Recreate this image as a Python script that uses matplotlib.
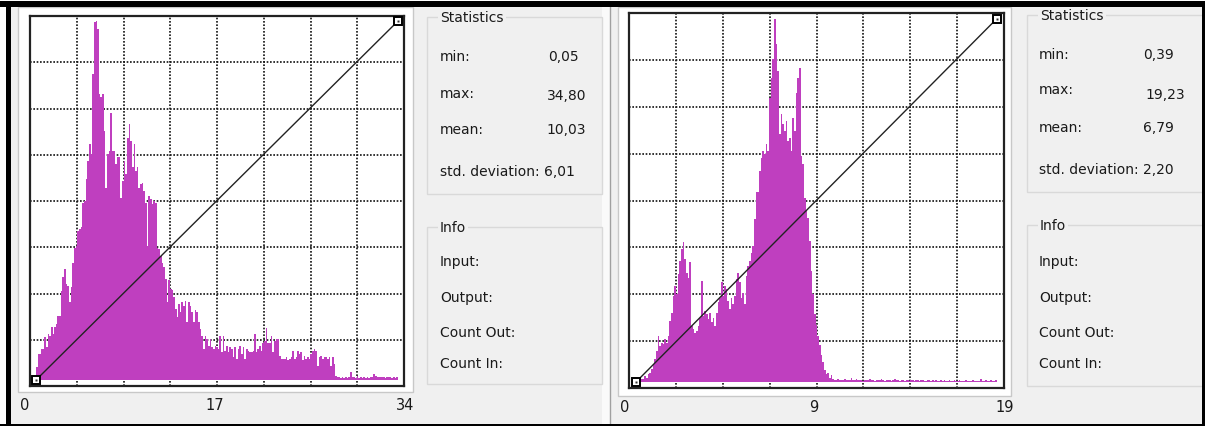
import numpy as np
import matplotlib
matplotlib.use("Agg")
import matplotlib.pyplot as plt
from matplotlib.patches import Rectangle

W, H, DPI = 1205, 427, 100

# Relative frequency of each histogram bin (percent of the tallest bin)
counts_a = [
    3.5, 7.2, 7.2, 8.6, 8.6,
    11.9, 9.1, 12.8, 12.3, 14.7, 12.8, 14.7, 15.6, 17.9, 17.9,
    24.9, 28.6, 30.9, 26.7, 26.3, 21.6, 25.8, 32.7, 36.9, 37.4,
    41.6, 42.0, 42.5, 49.4, 49.9, 55.9, 61.0, 65.7, 62.9, 85.2,
    99.8, 100.0, 97.7, 79.6, 78.7, 79.6, 69.4, 53.6, 62.9, 63.8,
    74.5, 63.8, 63.8, 60.1, 62.0, 62.0, 50.8, 55.5, 61.0, 57.3,
    67.5, 71.2, 66.6, 59.2, 65.7, 58.3, 59.2, 53.6, 54.5, 55.0,
    52.7, 49.4, 37.4, 51.3, 50.4, 49.0, 49.9, 49.4, 36.9, 36.5,
    34.6, 32.7, 31.4, 28.1, 21.7, 27.9, 25.3, 25.0, 23.1, 19.8,
    17.5, 21.2, 18.9, 21.7, 20.7, 22.1, 16.1, 21.7, 20.7, 18.9,
    16.1, 19.4, 18.9, 16.1, 14.2, 12.3, 8.6, 12.3, 11.4, 9.6,
    11.4, 9.1, 8.6, 9.6, 9.1, 8.6, 12.3, 7.7, 12.3, 8.1,
    9.6, 7.7, 9.1, 8.6, 6.3, 9.1, 5.8, 8.6, 9.6, 7.2,
    9.1, 5.8, 8.6, 8.1, 7.7, 7.7, 8.1, 12.8, 7.7, 8.6,
    9.6, 8.1, 10.4, 10.9, 14.6, 10.4, 10.4, 12.3, 7.7, 10.9,
    11.4, 11.4, 6.7, 5.8, 5.8,
    5.8, 6.3, 5.5, 5.8, 6.3, 8.2, 5.8, 6.3, 8.2, 7.2,
    7.7, 5.5, 6.8, 5.8, 6.3, 5.8, 7.2, 8.2, 8.6, 8.2,
    4.0, 6.3, 6.8, 5.8, 6.3, 6.3, 5.8, 6.3, 4.0, 6.3,
    4.5, 1.2, 0.7, 0.7, 0.5, 0.7, 0.5, 0.7, 0.6, 0.9,
    2.3, 0.7, 0.9, 0.6, 1.0, 0.6, 0.7, 0.6, 0.8, 0.6,
    0.7, 0.6, 0.8, 0.9, 1.7, 1.2, 0.8, 0.7, 0.7, 0.9,
    0.7, 0.6, 0.8, 0.7, 0.9, 0.6, 0.8, 0.6, 0.7,
]

counts_b = [
    0.4, 0.5, 0.7, 0.7, 0.8, 1.7, 1.2, 2.1, 2.6, 3.5,
    4.9, 6.2, 8.5, 12.7, 9.9, 10.8, 10.4, 11.7, 10.8, 12.7,
    16.8, 19.1, 23.7, 26.4, 24.1, 29.7, 33.3, 36.5, 38.4, 33.8,
    30.1, 28.7, 32.9, 15.4, 14.5, 13.6, 14.1, 15.4, 17.7, 27.8,
    18.2, 19.5, 18.6, 17.3, 19.1, 16.4, 17.7, 15.4, 19.1, 21.9,
    23.2, 27.4, 23.7, 26.4, 25.5, 22.3, 20.0, 23.2, 21.4, 23.7,
    28.3, 30.1, 27.4, 23.2, 24.5, 21.4, 29.2, 31.9, 33.3, 35.6,
    37.4, 44.8, 52.2, 52.2,
    58.0, 61.7, 63.5, 62.6, 65.4, 63.5, 78.2, 83.7, 88.8, 100.0,
    92.9, 85.5, 68.1, 73.6, 71.0, 69.0, 71.7, 66.3, 67.2, 63.5,
    72.7, 69.0, 79.6, 83.7, 86.4, 62.1, 59.9, 50.7, 47.0, 45.2,
    38.7, 30.5, 24.1, 18.6, 15.8, 12.6, 10.3,
    7.5, 5.5, 3.2, 2.1, 2.6, 1.2, 1.8, 0.7,
    0.5, 0.6, 0.9, 0.5, 0.6, 0.5, 0.8, 0.6, 0.5, 0.5,
    1.0, 0.6, 0.5, 0.7, 0.5, 0.6, 0.5, 0.4, 0.5, 0.6,
    0.5, 0.7, 0.5, 0.5, 0.4, 0.6, 0.5, 0.5, 0.7, 0.5,
    0.4, 0.5, 0.6, 0.5, 0.4, 0.5, 0.7, 0.5, 0.5, 0.4,
    0.5, 0.6, 0.4, 0.5, 0.5, 0.4, 0.6, 0.5, 0.4, 0.5,
    0.5, 0.4, 0.5, 0.6, 0.4, 0.4, 0.5, 0.5, 0.4, 0.5,
    0.4, 0.5, 0.4, 0.4, 0.6, 0.4, 0.5, 0.4, 0.4, 0.5,
    0.4, 0.4, 0.5, 0.4, 0.4, 0.5, 0.4, 0.4, 0.4, 0.5,
    0.4, 0.4, 0.4, 0.5, 0.4, 0.4, 0.4, 0.4, 0.9, 0.4,
    0.4, 0.5, 0.4, 0.4, 0.6, 0.4, 0.4, 0.5,
]

range_a = (0.05, 34.80)
range_b = (0.39, 19.23)
axis_labels_a = ["0", "17", "34"]
axis_labels_b = ["0", "9", "19"]

stat_names = ["min:", "max:", "mean:"]
stat_values_a = ["0,05", "34,80", "10,03"]
stat_values_b = ["0,39", "19,23", "6,79"]
std_a = "6,01"
std_b = "2,20"
info_labels = ["Input:", "Output:", "Count Out:", "Count In:"]

BAR = "#bf3fbf"
BG = "#f0f0f0"
TXT = "#1a1a1a"
FONT = "DejaVu Sans"

fig = plt.figure(figsize=(W / DPI, H / DPI), dpi=DPI)
fig.patch.set_facecolor(BG)

# Full-size overlay in pixel units for the dialog chrome and labels
ui = fig.add_axes([0, 0, 1, 1], zorder=0)
ui.set_xlim(0, W)
ui.set_ylim(H, 0)
ui.axis("off")


def rect(x0, y0, x1, y1, **kw):
    ui.add_patch(Rectangle((x0, y0), x1 - x0, y1 - y0, **kw))


def px_axes(x0, y0, x1, y1):
    return fig.add_axes([x0 / W, 1 - y1 / H, (x1 - x0) / W, (y1 - y0) / H], zorder=2)


def histogram(frame, pads, counts, vrange):
    x0, y0, x1, y1 = frame
    pl, pr, pb, pt = pads
    ax = px_axes(x0, y0, x1, y1)
    vmin, vmax = vrange
    top = max(counts)
    sx = (vmax - vmin) / (x1 - x0 - pl - pr)
    sy = top / (y1 - y0 - pb - pt)
    ax.set_xlim(vmin - pl * sx, vmax + pr * sx)
    ax.set_ylim(-pb * sy, top + pt * sy)
    ax.set_facecolor("white")
    for k in range(1, 8):
        ax.plot([k / 8, k / 8], [0, 1], transform=ax.transAxes, color="#111111",
                lw=1.2, ls=(0, (1, 1)), zorder=1)
        ax.plot([0, 1], [k / 8, k / 8], transform=ax.transAxes, color="#111111",
                lw=1.2, ls=(0, (1, 1)), zorder=1)
    edges = np.linspace(vmin, vmax, len(counts) + 1)
    ax.stairs(counts, edges, fill=True, color=BAR, baseline=0, zorder=2)
    ax.plot([vmin, vmax], [0, top], color="#222222", lw=1.0, zorder=3)
    ax.plot([vmin, vmax], [0, top], ls="none", marker="s", ms=6, mfc="white",
            mec="black", mew=1.4, zorder=4)
    ax.plot([vmin, vmax], [0, top], ls="none", marker="s", ms=1.6, mfc="#333333",
            mec="none", zorder=5)
    ax.set_xticks([])
    ax.set_yticks([])
    for s in ax.spines.values():
        s.set_color("#222222")
        s.set_linewidth(1.6)
    return ax


def group_box(x0, y0, x1, y1, title):
    rect(x0, y0, x1, y1, facecolor="none", edgecolor="#d9d9d9", lw=1.0, zorder=1)
    ui.text(x0 + 13, y0, title, fontsize=10, family=FONT, color=TXT,
            va="center", ha="left", zorder=3,
            bbox=dict(boxstyle="square,pad=0.15", fc=BG, ec="none"))


# --- window chrome ---
rect(0, 0, 6, H, facecolor="white", edgecolor="none", zorder=0.5)
rect(0, 0, W, 2, facecolor="white", edgecolor="none", zorder=0.5)

# white canvases around the two plots
rect(18, 8, 413, 393, facecolor="white", edgecolor="#c8c8c8", lw=1.0, zorder=0.6)
rect(618, 8, 1011, 397, facecolor="white", edgecolor="#c8c8c8", lw=1.0, zorder=0.6)

# --- histograms ---
histogram((30, 17, 404, 387), (6, 6, 6, 5), counts_a, range_a)
histogram((629, 14, 1004, 389), (7, 7, 6, 5.5), counts_b, range_b)

# value labels under each plot
for lab, x in zip(axis_labels_a, [25, 215, 405]):
    ui.text(x, 406, lab, fontsize=10.5, family=FONT, color=TXT, ha="center", va="center")
for lab, x in zip(axis_labels_b, [625, 814, 1005]):
    ui.text(x, 408, lab, fontsize=10.5, family=FONT, color=TXT, ha="center", va="center")


# --- statistics panels ---
def panel(tx, vx, gx0, gx1, name_ys, value_ys, std_y, values, std, stat_box, info_box, info_ys):
    group_box(gx0, stat_box[0], gx1, stat_box[1], "Statistics")
    for name, val, yn, yv, x in zip(stat_names, values, name_ys, value_ys, vx):
        ui.text(tx, yn, name, fontsize=10, family=FONT, color=TXT, va="center", ha="left")
        ui.text(x, yv, val, fontsize=10, family=FONT, color=TXT, va="center", ha="left")
    ui.text(tx, std_y, "std. deviation: " + std, fontsize=10, family=FONT, color=TXT,
            va="center", ha="left")
    group_box(gx0, info_box[0], gx1, info_box[1], "Info")
    for lab, y in zip(info_labels, info_ys):
        ui.text(tx, y, lab, fontsize=10, family=FONT, color=TXT, va="center", ha="left")


panel(440, [548, 547, 546], 427, 602, [57, 94, 130], [57, 96, 130], 172,
      stat_values_a, std_a, (18, 195), (228, 385), [262, 298, 333, 364])
panel(1039, [1143, 1145, 1143], 1027, 1230, [55, 90, 128], [55, 95, 128], 170,
      stat_values_b, std_b, (16, 193), (226, 387), [262, 298, 333, 364])

# strip where the left dialog is cut off
rect(602, 8, 610, H, facecolor="#fafafa", edgecolor="none", zorder=0.8)
ui.plot([610, 610], [8, H], color="#a0a0a0", lw=1.0, zorder=0.9)

# black outer border
rect(0, 2, W, 8, facecolor="black", edgecolor="none", zorder=5)
rect(6, 2, 11, H, facecolor="black", edgecolor="none", zorder=5)
rect(0, H - 2, W, H, facecolor="black", edgecolor="none", zorder=5)
rect(W - 3, 2, W, H, facecolor="black", edgecolor="none", zorder=5)

fig.savefig("out.png", dpi=DPI, facecolor=fig.get_facecolor())
